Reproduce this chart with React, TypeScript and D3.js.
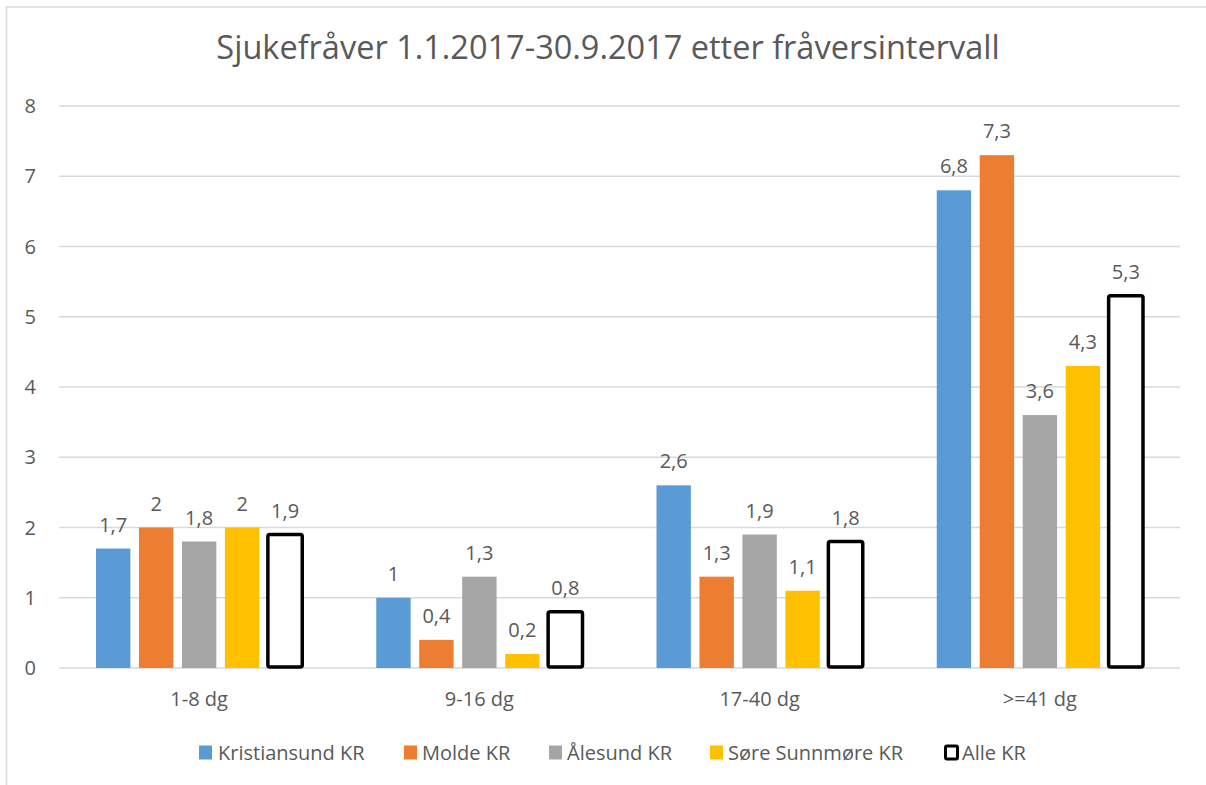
import React from "react";
import * as d3 from "d3";

const categories = ["1-8 dg", "9-16 dg", "17-40 dg", ">=41 dg"];
const seriesNames = ["Kristiansund KR", "Molde KR", "Ålesund KR", "Søre Sunnmøre KR", "Alle KR"];
const kristiansund = [1.7, 1.0, 2.6, 6.8];
const molde = [2.0, 0.4, 1.3, 7.3];
const alesund = [1.8, 1.3, 1.9, 3.6];
const soreSunnmore = [2.0, 0.2, 1.1, 4.3];
const alle = [1.9, 0.8, 1.8, 5.3];
const yTicks = [0, 1, 2, 3, 4, 5, 6, 7, 8];
const title = "Sjukefråver 1.1.2017-30.9.2017 etter fråversintervall";

const seriesValues = [kristiansund, molde, alesund, soreSunnmore, alle];
const fills = ["#5B9BD5", "#ED7D31", "#A5A5A5", "#FFC000", "#FFFFFF"];

const W = 1206;
const H = 785;
const FONT = "'Open Sans', sans-serif";
const TXT = "#595959";

export default function App() {
  const left = 59, right = 1180, top = 106, bottom = 668;
  const x = d3.scaleBand<string>().domain(categories).range([left, right]);
  const bw = x.bandwidth();
  const inner = d3
    .scaleBand<string>()
    .domain(seriesNames)
    .range([37, bw - 37])
    .paddingInner(0.2);
  const y = d3.scaleLinear().domain([0, 8]).range([bottom, top]);
  const fmt = (v: number) => String(v).replace(".", ",");

  const legendItems = [
    { x: 199, tx: 218 },
    { x: 404, tx: 422 },
    { x: 549, tx: 567 },
    { x: 710, tx: 728 },
    { x: 944, tx: 962 },
  ];

  return (
    <svg
      width={W}
      height={H}
      style={{ position: "absolute", left: 0, top: 0, background: "#fff" }}
      fontFamily={FONT}
    >
      <rect x={6.5} y={7} width={W + 10} height={H + 10} fill="#fff" stroke="#D9D9D9" strokeWidth={1.5} />
      <text x={608} y={59} textAnchor="middle" fontSize={32.5} fill={TXT}>
        {title}
      </text>
      {yTicks.map((t) => (
        <g key={t}>
          <line x1={left} x2={right} y1={y(t)} y2={y(t)} stroke="#D9D9D9" strokeWidth={1.3} />
          <text x={36} y={y(t) + 7} textAnchor="end" fontSize={20} fill={TXT}>
            {t}
          </text>
        </g>
      ))}
      {categories.map((c, ci) => (
        <g key={c}>
          {seriesNames.map((s, si) => {
            const v = seriesValues[si][ci];
            const bx = (x(c) as number) + (inner(s) as number);
            const by = y(v);
            const isAlle = si === 4;
            return (
              <g key={s}>
                {isAlle ? (
                  <rect
                    x={bx}
                    y={by}
                    width={inner.bandwidth()}
                    height={y(0) - by - 1}
                    fill="#fff"
                    stroke="#000"
                    strokeWidth={3.5}
                    rx={2}
                  />
                ) : (
                  <rect x={bx} y={by} width={inner.bandwidth()} height={y(0) - by} fill={fills[si]} />
                )}
                <text
                  x={bx + inner.bandwidth() / 2}
                  y={by - 17}
                  textAnchor="middle"
                  fontSize={20}
                  fill={TXT}
                >
                  {fmt(v)}
                </text>
              </g>
            );
          })}
          <text x={(x(c) as number) + bw / 2} y={706} textAnchor="middle" fontSize={20} fill={TXT}>
            {c}
          </text>
        </g>
      ))}
      {seriesNames.map((s, si) => (
        <g key={s}>
          {si === 4 ? (
            <rect x={legendItems[si].x + 1.5} y={746} width={12} height={13} fill="#fff" stroke="#000" strokeWidth={3} rx={1.5} />
          ) : (
            <rect x={legendItems[si].x} y={745.5} width={13} height={14} fill={fills[si]} />
          )}
          <text x={legendItems[si].tx} y={759.5} fontSize={20} fill={TXT}>
            {s}
          </text>
        </g>
      ))}
    </svg>
  );
}
